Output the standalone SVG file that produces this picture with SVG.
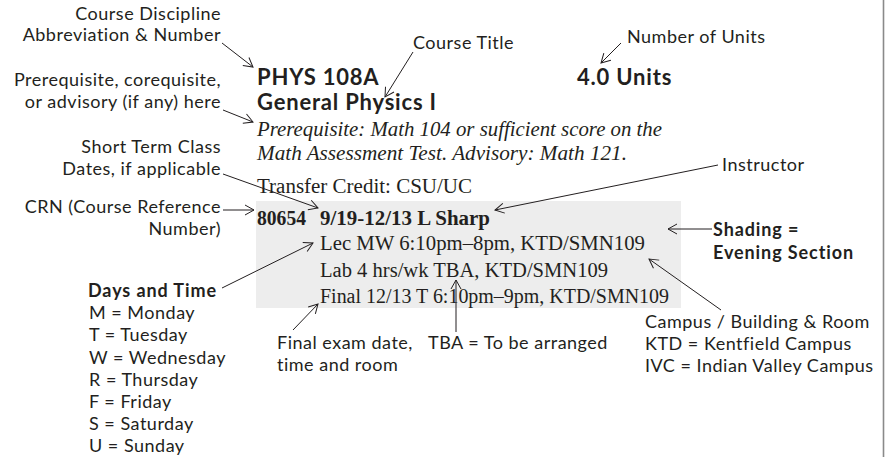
<svg xmlns="http://www.w3.org/2000/svg" width="893" height="459" viewBox="0 0 893 459">
<defs>
<marker id="ah" markerWidth="14" markerHeight="14" refX="10" refY="6" orient="auto" markerUnits="userSpaceOnUse">
<path d="M1,1 L10,6 L1,11" fill="none" stroke="#231f20" stroke-width="1"/>
</marker>
<style>
.lbl{font-family:Lato,"Open Sans",sans-serif;font-size:18px;letter-spacing:0.5px;fill:#231f20}
.lb{font-family:Lato,"Open Sans",sans-serif;font-size:18px;letter-spacing:0.9px;font-weight:bold;fill:#231f20}
.ttl{font-family:Lato,"Open Sans",sans-serif;font-size:22px;letter-spacing:0.8px;font-weight:bold;fill:#231f20}
.ser{font-family:"Liberation Serif",serif;font-size:20px;fill:#231f20}
.seri{font-family:"Liberation Serif",serif;font-size:20px;font-style:italic;fill:#231f20}
.serb{font-family:"Liberation Serif",serif;font-size:20px;font-weight:bold;fill:#231f20}
.r{text-anchor:end}
.c{fill:none;stroke:#231f20;stroke-width:1;marker-end:url(#ah)}
</style>
</defs>
<rect x="0" y="0" width="893" height="459" fill="#ffffff"/>
<line x1="883.5" y1="0" x2="883.5" y2="457" stroke="#8a8a8a" stroke-width="1.6"/>

<g id="listing">
<rect x="256" y="201" width="425" height="107" fill="#ededed"/>
<text class="ttl" x="257" y="85">PHYS 108A</text>
<text class="ttl" x="257" y="110">General Physics I</text>
<text class="ttl" x="577" y="85">4.0 Units</text>
<text class="seri" x="257" y="136" textLength="405" lengthAdjust="spacingAndGlyphs">Prerequisite: Math 104 or sufficient score on the</text>
<text class="seri" x="257" y="160" textLength="370" lengthAdjust="spacingAndGlyphs">Math Assessment Test. Advisory: Math 121.</text>
<text class="ser" x="257" y="193" textLength="215" lengthAdjust="spacingAndGlyphs">Transfer Credit: CSU/UC</text>
<text class="serb" x="257" y="225" textLength="49" lengthAdjust="spacingAndGlyphs">80654</text>
<text class="serb" x="320" y="225" textLength="170" lengthAdjust="spacingAndGlyphs">9/19-12/13 L Sharp</text>
<text class="ser" x="320" y="250" textLength="325" lengthAdjust="spacingAndGlyphs">Lec MW 6:10pm–8pm, KTD/SMN109</text>
<text class="ser" x="320" y="277" textLength="288" lengthAdjust="spacingAndGlyphs">Lab 4 hrs/wk TBA, KTD/SMN109</text>
<text class="ser" x="320" y="303" textLength="349" lengthAdjust="spacingAndGlyphs">Final 12/13 T 6:10pm–9pm, KTD/SMN109</text>
</g>

<g id="label-discipline">
<text class="lbl r" x="221" y="20">Course Discipline</text>
<text class="lbl r" x="221" y="41">Abbreviation &amp; Number</text>
</g>
<g id="label-prereq">
<text class="lbl r" x="221" y="86">Prerequisite, corequisite,</text>
<text class="lbl r" x="221" y="108">or advisory (if any) here</text>
</g>
<g id="label-shortterm">
<text class="lbl r" x="221" y="153">Short Term Class</text>
<text class="lbl r" x="221" y="175">Dates, if applicable</text>
</g>
<g id="label-crn">
<text class="lbl r" x="221" y="213">CRN (Course Reference</text>
<text class="lbl r" x="221" y="235">Number)</text>
</g>
<g id="label-days">
<text class="lb" x="88" y="297">Days and Time</text>
<text class="lbl" x="89" y="319">M = Monday</text>
<text class="lbl" x="89" y="341">T = Tuesday</text>
<text class="lbl" x="89" y="364">W = Wednesday</text>
<text class="lbl" x="89" y="386">R = Thursday</text>
<text class="lbl" x="89" y="408">F = Friday</text>
<text class="lbl" x="89" y="430">S = Saturday</text>
<text class="lbl" x="89" y="452">U = Sunday</text>
</g>
<g id="label-title">
<text class="lbl" x="413" y="49">Course Title</text>
</g>
<g id="label-units">
<text class="lbl" x="627" y="43">Number of Units</text>
</g>
<g id="label-instructor">
<text class="lbl" x="722" y="171">Instructor</text>
</g>
<g id="label-shading">
<text class="lb" x="713" y="236">Shading =</text>
<text class="lb" x="713" y="259">Evening Section</text>
</g>
<g id="label-campus">
<text class="lbl" x="645" y="328">Campus / Building &amp; Room</text>
<text class="lbl" x="645" y="350">KTD = Kentfield Campus</text>
<text class="lbl" x="645" y="372">IVC = Indian Valley Campus</text>
</g>
<g id="label-final">
<text class="lbl" x="277" y="349">Final exam date,</text>
<text class="lbl" x="277" y="371">time and room</text>
</g>
<g id="label-tba">
<text class="lbl" x="428" y="349">TBA = To be arranged</text>
</g>

<g id="connectors">
<path class="c" d="M222,43 L253,67"/>
<path class="c" d="M223,110 L253,122"/>
<path class="c" d="M413,52 L385,97"/>
<path class="c" d="M621,43 L601,63"/>
<path class="c" d="M223,174 L318,208"/>
<path class="c" d="M223,210 L254,210"/>
<path class="c" d="M222,288 L313,243"/>
<path class="c" d="M718,165 L495,210"/>
<path class="c" d="M712,229 L668,229"/>
<path class="c" d="M721,310 L649,259"/>
<path class="c" d="M293,330 L318,304"/>
<path class="c" d="M456,332 L456,280"/>
</g>
</svg>
